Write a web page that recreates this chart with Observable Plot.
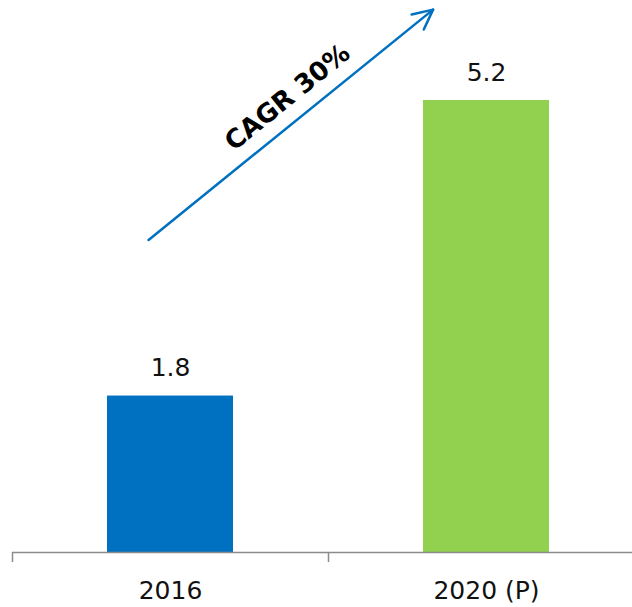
<!DOCTYPE html>
<html>
<head>
<meta charset="utf-8">
<script src="https://cdn.jsdelivr.net/npm/d3@7"></script>
<script src="https://cdn.jsdelivr.net/npm/@observablehq/plot@0.6"></script>
<style>
  html, body { margin: 0; padding: 0; background: #fff; }
</style>
</head>
<body>
<div id="chart"></div>
<script>
// ---- data ----
const categories = ["2016", "2020 (P)"];
const values = [1.8, 5.2];
const barColors = ["#0070C0", "#92D050"];
const cagrLabel = "CAGR 30%";

// ---- annotation (arrow from 2016 band towards 2020 band) ----
const arrowFrom = { category: "2016", bandFrac: 0.33, value: 3.59 };
const arrowTo = { category: "2020 (P)", bandFrac: 0.08, value: 6.24 };

const data = categories.map((c, i) => ({ category: c, value: values[i] }));

const chart = Plot.plot({
  width: 632,
  height: 607,
  marginLeft: 12,
  marginRight: 0,
  marginTop: 0,
  marginBottom: 0,
  style: { fontFamily: "DejaVu Sans, sans-serif", fontSize: "25px", background: "#fff", overflow: "visible" },
  x: { type: "band", domain: categories, range: [12, 644], paddingInner: 0.6, paddingOuter: 0.3, axis: null, label: null },
  y: { domain: [0, 5.2], range: [552, 100], axis: null },
  color: { domain: categories, range: barColors },
  marks: [
    Plot.barY(data, { x: "category", y: "value", fill: "category" }),
    Plot.ruleY([0], { stroke: "#8c8c8c", strokeWidth: 1.5 }),
    Plot.ruleX(categories, { x: d => d, y1: 0, y2: -0.115, dx: -158, stroke: "#8c8c8c", strokeWidth: 1.5 }),
    Plot.text(data, { x: "category", y: "value", text: d => d.value.toFixed(1), dy: -28, lineAnchor: "middle", fill: "#111", fontSize: 25 }),
    Plot.text(data, { x: "category", y: () => 0, text: "category", dy: 38, lineAnchor: "middle", fill: "#111", fontSize: 25 })
  ]
});

document.getElementById("chart").appendChild(chart);

// ---- arrow + CAGR label, placed through Plot's scales ----
const sx = chart.scale("x");
const sy = chart.scale("y");
const bw = sx.bandwidth;
const x1 = sx.apply(arrowFrom.category) + arrowFrom.bandFrac * bw;
const y1 = sy.apply(arrowFrom.value);
const x2 = sx.apply(arrowTo.category) + arrowTo.bandFrac * bw;
const y2 = sy.apply(arrowTo.value);

const svg = d3.select(chart);
const g = svg.append("g");
const stroke = "#0070C0";
g.append("line")
  .attr("x1", x1).attr("y1", y1).attr("x2", x2).attr("y2", y2)
  .attr("stroke", stroke).attr("stroke-width", 2.5).attr("stroke-linecap", "round");

const ang = Math.atan2(y2 - y1, x2 - x1);
const headLen = 22, headHalf = 26 * Math.PI / 180;
const hx1 = x2 - headLen * Math.cos(ang - headHalf), hy1 = y2 - headLen * Math.sin(ang - headHalf);
const hx2 = x2 - headLen * Math.cos(ang + headHalf), hy2 = y2 - headLen * Math.sin(ang + headHalf);
g.append("path")
  .attr("d", `M${hx1},${hy1}L${x2},${y2}L${hx2},${hy2}`)
  .attr("fill", "none").attr("stroke", stroke).attr("stroke-width", 2.5)
  .attr("stroke-linecap", "round").attr("stroke-linejoin", "round");

const len = Math.hypot(x2 - x1, y2 - y1);
const ux = (x2 - x1) / len, uy = (y2 - y1) / len;
const t = 0.54, off = 24;
const tx = x1 + t * (x2 - x1) + off * uy;
const ty = y1 + t * (y2 - y1) - off * ux;
g.append("text")
  .attr("transform", `translate(${tx},${ty}) rotate(${ang * 180 / Math.PI})`)
  .attr("text-anchor", "middle")
  .attr("dominant-baseline", "central")
  .attr("font-family", "DejaVu Sans, sans-serif")
  .attr("font-weight", "bold")
  .attr("font-size", 26)
  .attr("fill", "#000")
  .text(cagrLabel);
</script>
</body>
</html>
